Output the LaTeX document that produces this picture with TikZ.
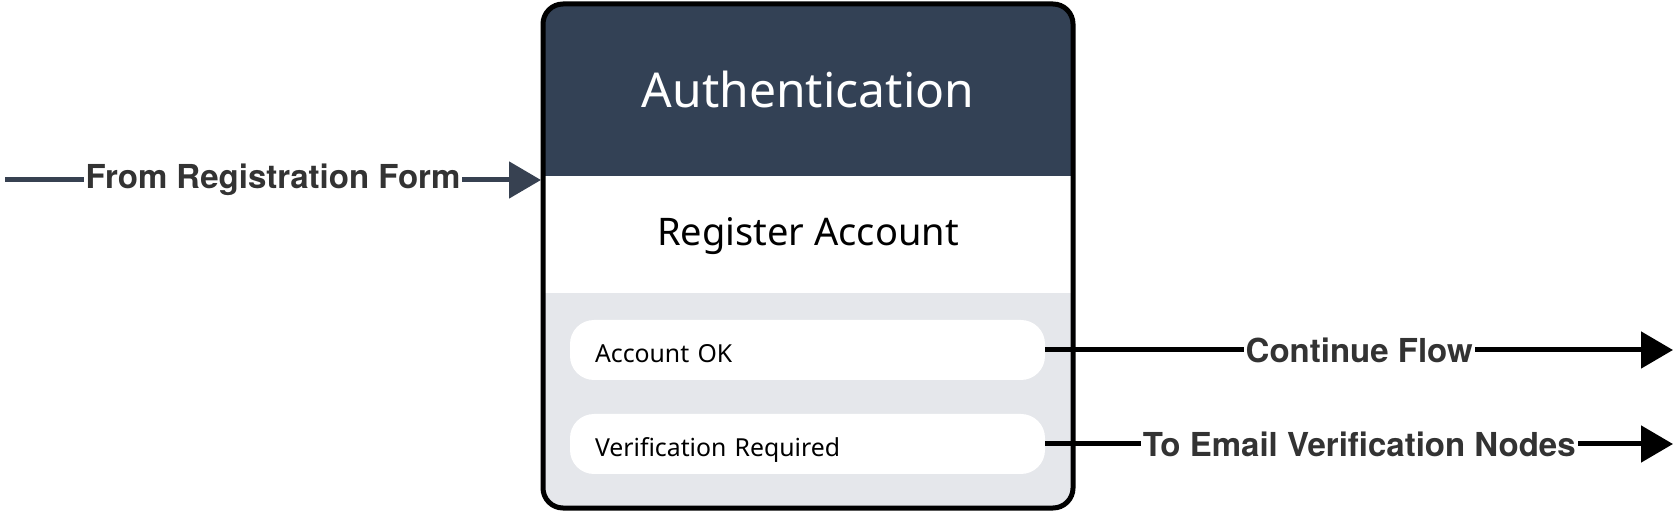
\documentclass[tikz,border=0pt]{standalone}
\usepackage{fontspec}
\setmainfont{Noto Sans}
\newfontfamily\flowfont{TeX Gyre Heros}
\usetikzlibrary{arrows.meta}
\definecolor{authhead}{HTML}{334155}
\definecolor{authgray}{HTML}{E5E7EB}
\definecolor{flowgray}{HTML}{374151}
\definecolor{labelink}{HTML}{333333}
\tikzset{
  flow/.style={line width=2.5pt, -{Triangle[length=16pt,width=18pt]}},
  flowlabel/.style={fill=white, inner sep=1pt, text=labelink, font=\flowfont\fontsize{16.5}{19}\selectfont\bfseries},
  branch/.style={fill=white, rounded corners=12pt, inner xsep=12.5pt, text width=212.5pt, text height=13pt, text depth=0pt, minimum height=30pt, align=left, font=\fontsize{12.4}{14}\selectfont}
}
\begin{document}
\begin{tikzpicture}[x=0.5pt,y=-0.5pt]
\useasboundingbox (0,0) rectangle (1674,512);
% the authentication box
\begin{scope}
\clip[rounded corners=10pt] (543,4) rectangle (1073,508);
\fill[authgray] (543,4) rectangle (1073,508);
\fill[white] (543,176) rectangle (1073,293);
\fill[authhead] (543,4) rectangle (1073,176);
\end{scope}
\draw[line width=2.5pt, rounded corners=10pt] (543,4) rectangle (1073,508);

\node[text=white, font=\fontsize{24}{28}\selectfont] (auth) at (808,90) {Authentication};
\node[font=\fontsize{19}{22}\selectfont] (register) at (808,236) {Register Account};
\node[branch] (ok) at (807.5,350) {Account OK};
\node[branch] (verify) at (807.5,444) {Verification Required};

% flows in and out
\coordinate (regform) at (5,180);
\coordinate (boxwest) at (541,180);
\coordinate (contend) at (1673,350);
\coordinate (emailend) at (1673,444);
\draw[flow, flowgray] (regform) -- node[flowlabel] {From Registration Form} (boxwest);
\draw[flow] (ok.east) -- node[flowlabel] {Continue Flow} (contend);
\draw[flow] (verify.east) -- node[flowlabel] {To Email Verification Nodes} (emailend);
\end{tikzpicture}
\end{document}
